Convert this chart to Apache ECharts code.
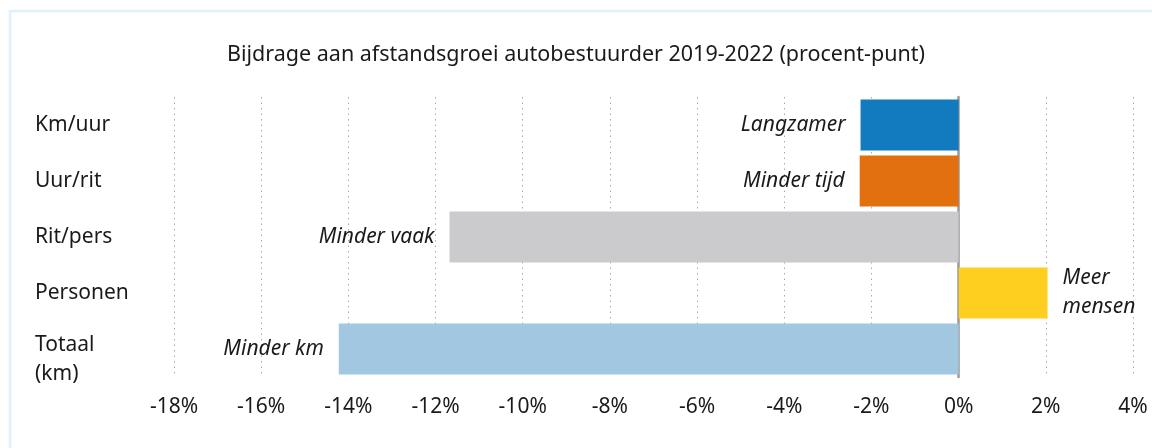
<!DOCTYPE html>
<html>
<head>
<meta charset="utf-8">
<script src="https://cdn.jsdelivr.net/npm/echarts@6/dist/echarts.min.js"></script>
<style>
  html, body { margin: 0; padding: 0; background: #fff; }
  #chart { width: 1152px; height: 448px; }
</style>
</head>
<body>
<div id="chart"></div>
<script>
var categories = ['Km/uur', 'Uur/rit', 'Rit/pers', 'Personen', 'Totaal\n(km)'];
var values = [-2.25, -2.27, -11.68, 2.04, -14.22];
var barLabels = ['Langzamer', 'Minder tijd', 'Minder vaak', 'Meer\nmensen', 'Minder km'];
var barColors = ['#127bc0', '#e2700f', '#cbcbcd', '#fecf1f', '#a2c8e1'];

var font = '"Noto Sans", sans-serif';

var chart = echarts.init(document.getElementById('chart'));

// bars with their italic labels
var data = values.map(function (v, i) {
    return {
        value: v,
        itemStyle: { color: barColors[i] },
        label: {
            show: true,
            position: v < 0 ? 'left' : 'right',
            distance: 15,
            formatter: barLabels[i],
            align: v < 0 ? 'right' : 'left',
            fontStyle: 'italic',
            fontFamily: font,
            fontSize: 21,
            lineHeight: 29,
            color: '#1a1a1a'
        }
    };
});

var catText = { fontFamily: font, fontSize: 21, lineHeight: 29, color: '#1a1a1a' };

chart.setOption({
    animation: false,
    title: {
        text: 'Bijdrage aan afstandsgroei autobestuurder 2019-2022 (procent-punt)',
        left: 'center',
        top: 39,
        textStyle: { fontFamily: font, fontSize: 21.5, fontWeight: 'normal', color: '#1a1a1a' }
    },
    graphic: [{
        type: 'rect',
        shape: { x: 10, y: 11, width: 1160, height: 460 },
        style: { fill: 'none', stroke: '#e1f0f9', lineWidth: 2.5 },
        silent: true
    }],
    grid: { left: 174, right: 19, top: 97, bottom: 71, outerBoundsMode: 'none' },
    xAxis: {
        type: 'value',
        min: -18,
        max: 4,
        interval: 2,
        axisLine: { show: false },
        axisTick: { show: false },
        axisLabel: {
            formatter: '{value}%',
            margin: 20,
            fontFamily: font,
            fontSize: 21,
            color: '#1a1a1a'
        },
        splitLine: { lineStyle: { type: [1.5, 4], color: '#aaaaaa', width: 1 } }
    },
    yAxis: {
        type: 'category',
        inverse: true,
        data: categories,
        axisLine: { onZero: true, lineStyle: { color: '#999999', width: 2.5 } },
        axisTick: { show: false },
        axisLabel: {
            align: 'left',
            margin: 139,
            fontFamily: font,
            fontSize: 21,
            lineHeight: 29,
            color: '#1a1a1a',
            // two-line category sits a bit lower in the original: push it down with a spacer line
            formatter: function (v) {
                var parts = v.split('\n');
                if (parts.length < 2) return v;
                return '{s| }\n{t|' + parts[0] + '}\n{t|' + parts[1] + '}';
            },
            rich: {
                s: { fontSize: 10, lineHeight: 22 },
                t: catText
            }
        }
    },
    series: [{
        type: 'bar',
        data: data,
        barCategoryGap: '9%'
    }]
});
</script>
</body>
</html>
